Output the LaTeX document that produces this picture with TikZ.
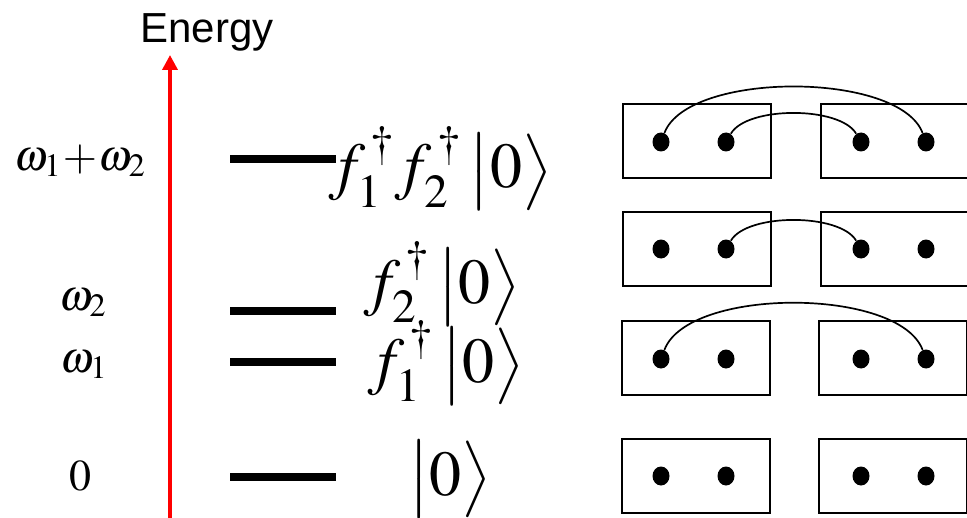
\documentclass[tikz,border=0pt]{standalone}
\usepackage{mathptmx}
\usepackage[no-math]{fontspec}
\usepackage{tikz}
\usetikzlibrary{arrows.meta,shapes.geometric}
\newfontfamily\energyfont{Liberation Sans}
\newcommand{\vac}{\left|\rule[-12pt]{0pt}{40pt}0\right\rangle}

\begin{document}
\begin{tikzpicture}[x=0.5pt,y=-0.5pt,every node/.style={inner sep=0pt},
  levelline/.style={line width=3.8pt},
  energyaxis/.style={red,line width=1.8pt,-{Triangle[length=7.5pt,width=7.5pt]}},
  cell/.style={draw,line width=1pt,minimum width=74pt,minimum height=37pt},
  site/.style={ellipse,fill,minimum width=8.5pt,minimum height=9.5pt},
  pairing/.style={line width=0.85pt},
  ketlabel/.style={font=\fontsize{32}{38}\selectfont,anchor=base west},
  elabel/.style={font=\fontsize{22}{26}\selectfont,anchor=base}]
\clip (0,0) rectangle (967,518);
% energy axis
\coordinate (axisfoot) at (170,520);
\coordinate (axishead) at (170,55);
\draw[energyaxis] (axisfoot) -- (axishead);
\node[anchor=base,font=\energyfont\fontsize{21}{25}\selectfont] (energy) at (207,43) {Energy};
% energies
\node[elabel] (e12) at (80,170) {$\omega_1\!+\!\omega_2$};
\node[elabel] (e2) at (83,310) {$\omega_2$};
\node[elabel] (e1) at (84,372) {$\omega_1$};
\node[elabel] (e0) at (80,490) {$0$};
% levels
\draw[levelline] (230,159) -- (336,159);
\draw[levelline] (230,311) -- (336,311);
\draw[levelline] (230,362) -- (336,362);
\draw[levelline] (230,477) -- (336,477);
% states
\node[ketlabel] (k12) at (328,188) {$f_1^{\,\dagger} f_2^{\,\dagger}\vac$};
\node[ketlabel] (k2) at (363,303) {$f_2^{\,\dagger}\vac$};
\node[ketlabel] (k1) at (367,382) {$f_1^{\,\dagger}\vac$};
\node[ketlabel] (k0) at (408,495) {$\vac$};
% cells, row a
\node[cell] (cella) at (697,141) {};
\node[cell] (cellA) at (895,141) {};
\node[site] (a1) at (661,142) {};
\node[site] (a2) at (726,142) {};
\node[site] (a3) at (861,142) {};
\node[site] (a4) at (926,142) {};
\draw[pairing] (a1) .. controls (688,71) and (899,71) .. (a4);
\draw[pairing] (a2) .. controls (747,106) and (840,106) .. (a3);
% row b
\node[cell] (cellb) at (697,249) {};
\node[cell] (cellB) at (895,249) {};
\node[site] (b1) at (661,249) {};
\node[site] (b2) at (726,249) {};
\node[site] (b3) at (861,249) {};
\node[site] (b4) at (926,249) {};
\draw[pairing] (b2) .. controls (747,213) and (840,213) .. (b3);
% row c
\node[cell] (cellc) at (696,358) {};
\node[cell] (cellC) at (893,358) {};
\node[site] (c1) at (661,359) {};
\node[site] (c2) at (726,359) {};
\node[site] (c3) at (861,359) {};
\node[site] (c4) at (926,359) {};
\draw[pairing] (c1) .. controls (688,287) and (899,287) .. (c4);
% row d
\node[cell] (celld) at (696,476) {};
\node[cell] (cellD) at (893,476) {};
\node[site] (d1) at (661,476) {};
\node[site] (d2) at (726,476) {};
\node[site] (d3) at (861,476) {};
\node[site] (d4) at (926,476) {};
\end{tikzpicture}
\end{document}
